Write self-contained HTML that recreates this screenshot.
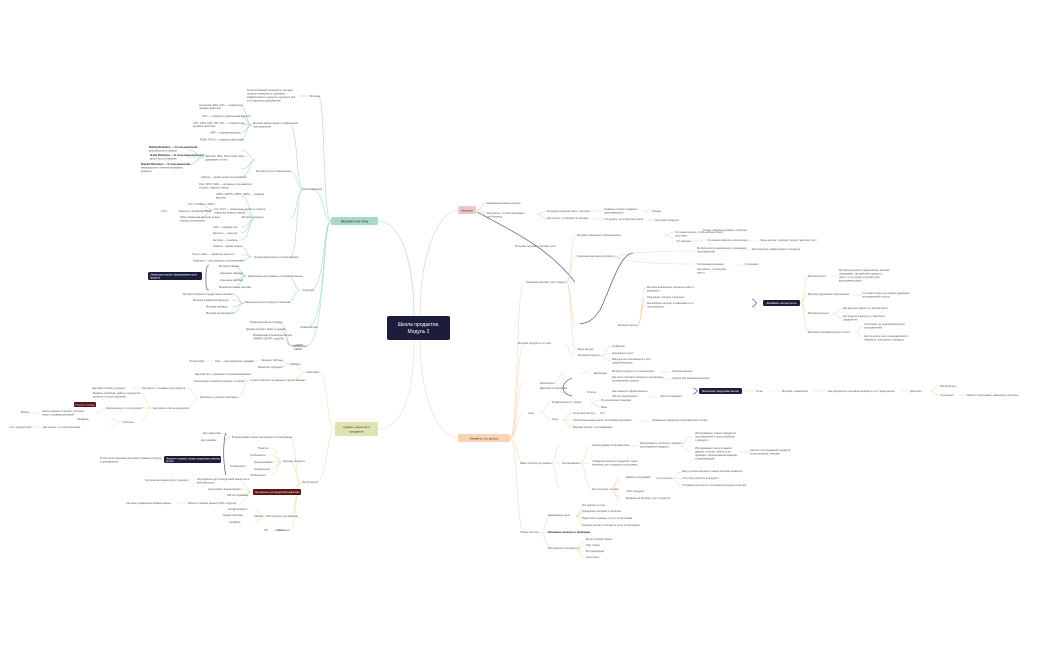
<!DOCTYPE html>
<html><head><meta charset="utf-8"><style>
html,body{margin:0;padding:0;background:#fff;}
svg{display:block;font-family:"Liberation Sans","Noto Sans CJK SC",sans-serif;}
.t{font-size:2.6px;fill:#555;}
.tl{text-anchor:end;}
.tb{font-size:2.6px;fill:#222;font-weight:bold;}
.teal{stroke:#a9d9cc;fill:none;stroke-width:0.6;}
.pink{stroke:#efc5c5;fill:none;stroke-width:0.6;}
.peach{stroke:#f6d8bb;fill:none;stroke-width:0.6;}
.green{stroke:#e3e6b8;fill:none;stroke-width:0.6;}
.navy{stroke:#3a3c60;fill:none;stroke-width:0.6;}
</style></head><body>
<svg width="1050" height="650" viewBox="0 0 1050 650" xmlns="http://www.w3.org/2000/svg">
<rect width="1050" height="650" fill="#fff"/>

<!-- main curves -->
<path class="teal" d="M414 316 C414 260 400 221 378 221" stroke-width="0.9"/>
<path class="pink" d="M420 316 C420 250 440 210 458 210" stroke-width="0.9"/>
<path class="green" d="M414 340 C414 400 400 429 378 429" stroke-width="0.9"/>
<path class="peach" d="M420 340 C420 400 440 438 458 438" stroke-width="0.9"/>

<!-- central -->
<rect x="387" y="316" width="63" height="24" rx="2" fill="#1c1d3b"/>
<text x="418.5" y="326" font-size="5" fill="#fff" text-anchor="middle">Школа продактов.</text>
<text x="418.5" y="333" font-size="5" fill="#fff" text-anchor="middle">Модуль 2</text>

<!-- branch nodes -->
<rect x="331" y="217" width="47" height="8" rx="1.5" fill="#a8d8cb"/>
<text x="354.5" y="222.5" font-size="3.2" fill="#333" text-anchor="middle">Метрики и их типы</text>
<rect x="458" y="206" width="18" height="8" rx="1.5" fill="#f0c6c6"/>
<text x="467" y="211.5" font-size="3" fill="#333" text-anchor="middle">Метрики</text>
<rect x="335" y="422" width="43" height="14" rx="1.5" fill="#dfe3b1"/>
<text x="356.5" y="428" font-size="3" fill="#333" text-anchor="middle">Цифры, скилы для</text>
<text x="356.5" y="432.5" font-size="3" fill="#333" text-anchor="middle">продактов</text>
<rect x="458" y="434" width="52" height="8" rx="1.5" fill="#f6d4b4"/>
<text x="484" y="439.5" font-size="3" fill="#333" text-anchor="middle">Инсайты, что делать</text>

<!-- TEAL TREE -->
<path class="teal" d="M331 221 C322 221 326 96 318 96"/>
<path class="teal" d="M331 221 C322 221 326 189 310 189"/>
<path class="teal" d="M331 221 C322 221 326 290 310 290"/>
<path class="teal" d="M331 221 C322 221 326 327 308 327"/>
<path class="teal" d="M331 221 C322 221 326 346 306 346"/>
<text class="t" x="310" y="97">Метрика</text>
<text class="t" x="303" y="190">Классификация</text>
<text class="t" x="302" y="291">Структура</text>
<text class="t" x="300" y="328">Уровни метрик</text>
<text class="t" x="292" y="347">Фреймворки</text>
<path class="teal" d="M309 96 C303 96 304 96 300 96"/>
<text class="t" x="247" y="91">Количественный показатель, который</text>
<text class="t" x="247" y="94.5">помогает измерить и оценивать</text>
<text class="t" x="247" y="98">эффективность продукта, процесса или</text>
<text class="t" x="247" y="101.5">его отдельных компонентов</text>

<path class="teal" d="M303 189 C296 189 298 125 290 125"/>
<path class="teal" d="M303 189 C296 189 298 171 290 171"/>
<path class="teal" d="M303 189 C296 189 298 218 290 218"/>
<path class="teal" d="M303 189 C296 189 298 257 290 257"/>
<text class="t" x="253" y="124">Метрики монетизации и привлечения</text>
<text class="t" x="253" y="127.5">пользователей</text>
<text class="t" x="256" y="172">Метрики роста и вовлечения</text>
<text class="t" x="242" y="218">Метрики продукта</text>
<text class="t" x="254" y="258">Уровни вовлечения и использования</text>
<path class="teal" d="M252 125 C246 125 247 106 240 106"/>
<path class="teal" d="M252 125 C246 125 247 116 240 116"/>
<path class="teal" d="M252 125 C246 125 247 124 240 124"/>
<path class="teal" d="M252 125 C246 125 247 133 240 133"/>
<path class="teal" d="M252 125 C246 125 247 140 240 140"/>
<text class="t" x="199" y="106">Conversion Rate (CR) — конверсия в</text>
<text class="t" x="199" y="109">целевое действие</text>
<text class="t" x="202" y="117">CAC — стоимость привлечения клиента</text>
<text class="t" x="193" y="124">CPC, CPM, CPA, CPI, CPL — стоимость за</text>
<text class="t" x="193" y="127">целевые действия</text>
<text class="t" x="210" y="133.5">ARR — годовая выручка</text>
<text class="t" x="200" y="140.5">ROMI, ROAS — возврат инвестиций</text>
<path class="teal" d="M255 160 C249 160 250 150 241 150"/>
<path class="teal" d="M255 160 C249 160 250 177 241 177"/>
<path class="teal" d="M255 160 C249 160 250 169 241 169"/>
<text class="t" x="205" y="157">Retention Rate, Churn Rate, DAU —</text>
<text class="t" x="205" y="160.5">удержание и отток</text>
<text class="t" x="201" y="178">Lifetime — время жизни пользователя</text>
<text class="t" x="199" y="185">DAU, WAU, MAU — активные пользователи</text>
<text class="t" x="199" y="188.5">за день, неделю и месяц</text>
<path class="teal" d="M204 157 C196 157 197 150 188 150"/>
<path class="teal" d="M204 157 C196 157 197 157 188 157"/>
<path class="teal" d="M204 157 C196 157 197 165 188 165"/>
<text class="tb" x="149" y="148">Rolling Retention — % пользователей,</text>
<text class="t" x="149" y="151.5">вернувшихся в продукт</text>
<text class="tb" x="150" y="156">N-day Retention — % пользователей в N-й</text>
<text class="t" x="150" y="159.5">день после установки</text>
<text class="tb" x="141" y="165">Bracket Retention — % пользователей,</text>
<text class="t" x="141" y="168.5">вернувшихся в течение интервала</text>
<text class="t" x="141" y="172">времени</text>
<path class="teal" d="M255 218 C249 218 250 196 241 196"/>
<path class="teal" d="M255 218 C249 218 250 210 241 210"/>
<path class="teal" d="M255 218 C249 218 250 227 241 227"/>
<path class="teal" d="M255 218 C249 218 250 233 241 233"/>
<path class="teal" d="M255 218 C249 218 250 240 241 240"/>
<text class="t" x="216" y="195">ARPU, ARPPU, ARPA, ARPC — средняя</text>
<text class="t" x="216" y="198.5">выручка</text>
<text class="t" x="214" y="210">LTV, CLTV — жизненная ценность клиента</text>
<text class="t" x="214" y="213.5">и выручка за весь период</text>
<text class="t" x="213" y="228">AOV — средний чек</text>
<text class="t" x="213" y="234">Revenue — выручка</text>
<text class="t" x="213" y="241">Earnings — прибыль</text>
<path class="teal" d="M213 210 C207 210 207 204 200 204"/>
<path class="teal" d="M213 210 C207 210 207 211 200 211"/>
<path class="teal" d="M213 210 C207 210 207 218 200 218"/>
<text class="t" x="188" y="205">LTV = Lifetime × ARPU</text>
<text class="t" x="179" y="212">Revenue / All Paying Clients</text>
<text class="t" x="161" y="212">LTV =</text>
<text class="t" x="180" y="218">Либо суммарная выручка за весь</text>
<text class="t" x="180" y="221.5">период пользования</text>
<path class="teal" d="M252 257 C246 257 247 246 240 246"/>
<path class="teal" d="M252 257 C246 257 247 254 240 254"/>
<path class="teal" d="M252 257 C246 257 247 261 240 261"/>
<text class="t" x="213" y="247">Lifetime — время жизни</text>
<text class="t" x="192" y="255">Time to value — время до ценности</text>
<text class="t" x="193" y="261.5">Stickiness — регулярность использования</text>
<!-- structure -->
<path class="teal" d="M300 290 C294 290 295 276 288 276"/>
<path class="teal" d="M300 290 C294 290 295 302 288 302"/>
<text class="t" x="248" y="277">Разделение на основные и вспомогательные</text>
<text class="t" x="245" y="303">Иерархия метрик продукта и бизнеса</text>
<path class="teal" d="M247 276 C240 276 242 266 234 266"/>
<path class="teal" d="M247 276 C240 276 242 273 234 273"/>
<path class="teal" d="M247 276 C240 276 242 280 234 280"/>
<path class="teal" d="M247 276 C240 276 242 287 234 287"/>
<text class="t" x="219" y="267">Метрика Севера</text>
<text class="t" x="220" y="274">Ключевые метрики</text>
<text class="t" x="220" y="281">Ключевые метрики</text>
<text class="t" x="219" y="288">Вспомогательные метрики</text>
<path class="navy" d="M209 265 C205 265 206 280 206 285 C206 288 207 290 209 290"/>
<rect x="148" y="272" width="54" height="8" rx="1.5" fill="#1c1d3b"/>
<text x="150" y="275.5" font-size="2.4" fill="#fff">Связующие метрики: формирование цели</text>
<text x="150" y="278.5" font-size="2.4" fill="#fff">продукта</text>
<path class="teal" d="M244 303 C238 303 240 294 232 294"/>
<path class="teal" d="M244 303 C238 303 240 300 232 300"/>
<path class="teal" d="M244 303 C238 303 240 307 232 307"/>
<path class="teal" d="M244 303 C238 303 240 313 232 313"/>
<text class="t" x="183" y="295">Метрики бизнеса и продуктовые метрики</text>
<text class="t" x="193" y="301">Метрики конкретной функции</text>
<text class="t" x="206" y="307.5">Метрики команды</text>
<text class="t" x="206" y="314">Метрики эксперимента</text>
<path class="teal" d="M292 346 C286 346 288 323 278 323"/>
<path class="teal" d="M292 346 C286 346 288 330 278 330"/>
<path class="teal" d="M292 346 C286 346 288 337 278 337"/>
<text class="t" x="250" y="323">Пирамида метрик (пример)</text>
<text class="t" x="246" y="330">Дерево метрик и связи с целями</text>
<text class="t" x="253" y="336">Фреймворки для выбора метрик:</text>
<text class="t" x="253" y="339.5">AARRR, HEART и другие</text>
<text class="t" x="294" y="346">AARRR</text>
<text class="t" x="294" y="350">HEART</text>

<!-- PINK TREE -->
<path class="pink" d="M476 210 C482 210 482 203 487 203"/>
<path class="pink" d="M476 210 C482 210 482 214 487 214"/>
<text class="t" x="487" y="204">Ежедневный анализ метрик</text>
<text class="t" x="487" y="214">Как понять, что метрики важны</text>
<text class="t" x="487" y="217.5">для бизнеса</text>
<path class="pink" d="M537 214 C542 214 542 211 547 211"/>
<path class="pink" d="M537 214 C542 214 542 219 547 219"/>
<text class="t" x="547" y="212">Отследить влияние фичи, гипотезы</text>
<text class="t" x="547" y="219">Как понять, что влияет на метрики</text>
<path class="pink" d="M593 211 L603 211"/>
<path class="pink" d="M593 219 L603 219"/>
<text class="t" x="604" y="210">Сравнить группы и выявить</text>
<text class="t" x="604" y="213.5">закономерности</text>
<text class="t" x="604" y="220">Что делать, если метрика упала</text>
<path class="pink" d="M643 211 L650 211"/><path class="pink" d="M648 220 L654 220"/>
<text class="t" x="652" y="212">Тренды</text>
<text class="t" x="655" y="221">На уровне продукта</text>
<path class="navy" d="M477 212 C520 235 550 250 575 282"/>
<text class="t" x="515" y="247">В основе: метрики, гипотезы, рост</text>

<!-- PEACH TREE -->
<path class="peach" d="M510 438 C518 438 516 282 524 282"/>
<path class="peach" d="M510 438 C518 438 516 345 524 345"/>
<path class="peach" d="M510 438 C518 438 516 382 524 382"/>
<path class="peach" d="M510 438 C518 438 516 412 524 412"/>
<path class="peach" d="M510 438 C518 438 516 463 524 463"/>
<path class="peach" d="M510 438 C518 438 516 531 524 531"/>
<text class="t" x="526" y="283">Ключевые метрики, рост продукта</text>
<text class="t" x="518" y="344">Метрики продукта и их рост</text>
<text class="t" x="540" y="384">Мониторинг</text>
<text class="t" x="528" y="414">Срез</text>
<text class="t" x="520" y="464">Иные способы улучшения</text>
<text class="t" x="520" y="533">Планы на итоги</text>
<path class="peach" d="M566 282 C572 282 570 235 576 235"/>
<path class="peach" d="M566 282 C572 282 570 257 576 257"/>
<path class="peach" d="M566 282 C572 282 570 325 576 325"/>
<path class="peach" d="M566 282 C572 282 570 350 576 350"/>
<text class="t" x="577" y="236">Метрики поведения и эксперименты</text>
<text class="t" x="577" y="257">Ключевые метрики для фокуса</text>
<text class="t" x="618" y="326">Метрики спроса</text>
<text class="t" x="577" y="350">Связь метрик</text>
<path class="peach" d="M664 235 C670 235 669 232 674 232"/>
<path class="peach" d="M664 235 C670 235 669 238 674 238"/>
<text class="t" x="675" y="233">Что нужно понять, чтобы метрики были</text>
<text class="t" x="675" y="236.5">простыми</text>
<text class="t" x="703" y="231">Планы, базовые метрики и гипотезы</text>
<text class="t" x="676" y="242">Что метрика</text>
<path class="peach" d="M690 241 L705 241"/>
<text class="t" x="707" y="241">Что можно измерить, как метрика</text>
<path class="peach" d="M745 241 L758 241"/>
<text class="t" x="760" y="241">Связь метрик с целями: продукт, выручка, рост</text>
<path class="peach" d="M614 257 C620 257 619 251 694 251"/>
<text class="t" x="697" y="249">Метрики роста, вовлечения и удержания</text>
<text class="t" x="697" y="252.5">пользователей</text>
<path class="peach" d="M614 257 C620 257 619 264 694 264"/>
<text class="t" x="697" y="265">Оптимизация воронки</text>
<path class="peach" d="M740 250 L750 250"/><text class="t" x="752" y="250">Как повышать эффективность продукта</text>
<path class="peach" d="M735 265 L743 265"/><text class="t" x="745" y="265">Улучшение</text>
<text class="t" x="697" y="270">Как понять, что метрики</text>
<text class="t" x="697" y="273.5">растут</text>
<path class="navy" d="M633 253 C620 253 610 290 600 310 C590 325 585 322 580 324"/>
<path class="peach" d="M637 326 C642 326 641 287 646 287"/>
<path class="peach" d="M637 326 C642 326 641 297 646 297"/>
<path class="peach" d="M637 326 C642 326 641 303 646 303"/>
<text class="t" x="647" y="288">Метрики вовлечения: время на сайте и</text>
<text class="t" x="647" y="291.5">конверсия</text>
<text class="t" x="647" y="298">Удержание: когорты и ретеншн</text>
<text class="t" x="647" y="304">Как выбрать метрику в зависимости от</text>
<text class="t" x="647" y="307.5">типа продукта</text>
<path class="navy" d="M752 299 C755 299 755 303 757 303 C755 303 755 307 752 307"/>
<rect x="763" y="300" width="37" height="6" rx="1.5" fill="#1c1d3b"/>
<text x="781.5" y="304" font-size="2.4" fill="#fff" text-anchor="middle">Фреймворк: метрики роста</text>
<path class="peach" d="M800 303 C805 303 804 276 808 276"/>
<path class="peach" d="M800 303 C805 303 804 294 808 294"/>
<path class="peach" d="M800 303 C805 303 804 313 808 313"/>
<path class="peach" d="M800 303 C805 303 804 333 808 333"/>
<text class="t" x="808" y="277">Метрики роста</text>
<text class="t" x="808" y="295">Метрики удержания и вовлечения</text>
<text class="t" x="808" y="314">Метрики выручки</text>
<text class="t" x="808" y="333">Метрики пользовательского опыта</text>
<path class="peach" d="M830 276 L838 276"/>
<text class="t" x="839" y="271">Метрики выручки и привлечения, которые</text>
<text class="t" x="839" y="274.5">показывают, как работает продукт и</text>
<text class="t" x="839" y="278">растет, и что нужно улучшать для</text>
<text class="t" x="839" y="281.5">выполнения целей</text>
<path class="peach" d="M853 295 L862 295"/>
<text class="t" x="862" y="294">Что нужно знать для оценки удержания</text>
<text class="t" x="862" y="297.5">пользователей и роста</text>
<path class="peach" d="M832 314 C838 314 836 308 842 308"/>
<path class="peach" d="M832 314 C838 314 836 318 842 318"/>
<text class="t" x="843" y="309">Как выручка зависит от метрик роста</text>
<text class="t" x="843" y="317">Как повысить выручку и увеличить</text>
<text class="t" x="843" y="320.5">средний чек</text>
<path class="peach" d="M855 333 C860 333 859 326 863 326"/>
<path class="peach" d="M855 333 C860 333 859 338 863 338"/>
<text class="t" x="864" y="325">Что влияет на удовлетворенность</text>
<text class="t" x="864" y="328.5">пользователей</text>
<text class="t" x="864" y="337">Как улучшать опыт пользователей и</text>
<text class="t" x="864" y="340.5">повышать лояльность к продукту</text>
<path class="peach" d="M565 345 C570 345 569 356 574 356"/>
<text class="t" x="578" y="356">Метрики продукта</text>
<path class="peach" d="M600 356 C606 356 605 346 611 346"/>
<path class="peach" d="M600 356 C606 356 605 353 611 353"/>
<path class="peach" d="M600 356 C606 356 605 361 611 361"/>
<text class="t" x="612" y="347">Конверсия</text>
<text class="t" x="612" y="354">Удержание и рост</text>
<text class="t" x="612" y="360">Выручка на пользователя и рост</text>
<text class="t" x="612" y="363.5">средней выручки</text>
<!-- monitoring -->
<path class="peach" d="M553 383 C560 383 558 373 564 373"/>
<path class="peach" d="M553 383 C560 383 558 393 564 393"/>
<text class="t" x="594" y="374">Дашборды</text>
<text class="t" x="587" y="393">Отчеты</text>
<path class="peach" d="M580 374 C585 374 585 371 590 371"/>
<text class="t" x="612" y="372">Метрики продукта и их мониторинг</text>
<text class="t" x="612" y="378">Как часто смотреть метрики и реагировать</text>
<text class="t" x="612" y="381.5">на изменения, алерты</text>
<text class="t" x="612" y="392">Как измерять эффективность</text>
<text class="t" x="612" y="397">Частота мониторинга</text>
<path class="peach" d="M660 372 L670 372"/><text class="t" x="672" y="372">Контроль метрик</text>
<path class="peach" d="M660 379 L670 379"/><text class="t" x="672" y="379">Алерты при изменении метрик</text>
<path class="peach" d="M650 397 L658 397"/><text class="t" x="660" y="397">Частота проверки</text>
<path class="navy" d="M693 388 C696 388 696 391 698 391 C696 391 696 394 693 394"/>
<rect x="699" y="388" width="43" height="6" rx="1.5" fill="#1c1d3b"/>
<text x="720.5" y="392" font-size="2.4" fill="#fff" text-anchor="middle">Мониторинг продуктовых метрик</text>
<path class="peach" d="M742 391 L755 391"/><text class="t" x="756" y="392">Отчет</text>
<path class="peach" d="M770 391 L780 391"/><text class="t" x="782" y="392">Метрики и аналитика</text>
<path class="peach" d="M812 391 L826 391"/><text class="t" x="828" y="392">Как определить ключевые метрики и что с ними делать</text>
<path class="peach" d="M900 391 L908 391"/><text class="t" x="910" y="392">Действия</text>
<path class="peach" d="M930 391 C935 391 934 386 939 386"/>
<path class="peach" d="M930 391 C935 391 934 395 939 395"/>
<text class="t" x="940" y="387">Инструменты</text>
<text class="t" x="940" y="396">Улучшения</text>
<path class="peach" d="M958 395 L966 395"/><text class="t" x="967" y="396">Работа с метриками, изменения, гипотезы</text>
<path class="navy" d="M572 378 C566 380 563 385 563 388 C563 392 567 395 572 396"/>
<text class="t" x="540" y="389">Действия по метрикам</text>
<!-- srez -->
<path class="peach" d="M540 413 C546 413 545 402 551 402"/>
<path class="peach" d="M540 413 C546 413 545 419 551 419"/>
<text class="t" x="552" y="403">В зависимости от целей</text>
<text class="t" x="552" y="420">Типы</text>
<path class="peach" d="M590 403 C596 403 594 400 600 400"/>
<path class="peach" d="M590 403 C596 403 594 407 600 407"/>
<text class="t" x="601" y="401">По сегментам и каналам</text>
<text class="t" x="601" y="408">Базы</text>
<path class="peach" d="M562 420 C568 420 566 413 572 413"/>
<path class="peach" d="M562 420 C568 420 566 420 572 420"/>
<path class="peach" d="M562 420 C568 420 566 427 572 427"/>
<text class="t" x="573" y="414">Когортный анализ</text>
<text class="t" x="573" y="421">Сегментационный анализ по базовым метрикам</text>
<text class="t" x="573" y="428">Воронки метрик и исследования</text>
<path class="peach" d="M638 421 L650 421"/><text class="t" x="652" y="421">Сравнение поведения пользователей и когорт</text>
<path class="peach" d="M590 414 L598 414"/><text class="t" x="600" y="414">LTV</text>
<!-- improvements -->
<path class="peach" d="M551 463 C556 463 555 445 560 445"/>
<path class="peach" d="M551 463 C556 463 555 463 560 463"/>
<path class="peach" d="M551 463 C556 463 555 488 560 488"/>
<text class="t" x="562" y="464">Исследования</text>
<path class="peach" d="M580 463 C586 463 585 446 591 446"/>
<path class="peach" d="M580 463 C586 463 585 464 591 464"/>
<path class="peach" d="M580 463 C586 463 585 489 591 489"/>
<text class="t" x="592" y="446">Анализ данных пользователей</text>
<text class="t" x="592" y="462">Сравнение метрик и продуктов, поиск</text>
<text class="t" x="592" y="465.5">инсайтов, рост продукта и улучшения</text>
<text class="t" x="592" y="490">Как улучшать метрики</text>
<path class="peach" d="M628 446 L638 446"/>
<text class="t" x="640" y="444">Как проверить гипотезы и провести</text>
<text class="t" x="640" y="447.5">исследование продукта</text>
<path class="peach" d="M680 446 C686 446 685 436 691 436"/>
<path class="peach" d="M680 446 C686 446 685 452 691 452"/>
<text class="t" x="695" y="434">Исследования: анализ поведения</text>
<text class="t" x="695" y="437.5">пользователей и поиск инсайтов</text>
<text class="t" x="695" y="441">о продукте</text>
<text class="t" x="695" y="449">Исследования: поиск и анализ</text>
<text class="t" x="695" y="452.5">данных, отчетов, гипотез и их</text>
<text class="t" x="695" y="456">проверка, формирование выводов</text>
<text class="t" x="695" y="459.5">и рекомендаций</text>
<path class="peach" d="M740 452 L750 452"/>
<text class="t" x="750" y="451">Анализ и исследования продукта:</text>
<text class="t" x="750" y="454.5">поиск инсайтов, метрики</text>
<path class="peach" d="M610 489 C616 489 614 478 620 478"/>
<path class="peach" d="M610 489 C616 489 614 482 620 482"/>
<path class="peach" d="M610 489 C616 489 614 497 620 497"/>
<path class="peach" d="M610 489 C616 489 614 500 620 500"/>
<text class="t" x="626" y="478">Работа с метриками</text>
<text class="t" x="656" y="479">Что улучшать</text>
<path class="peach" d="M672 478 C677 478 676 472 681 472"/>
<path class="peach" d="M672 478 C677 478 676 479 681 479"/>
<path class="peach" d="M672 478 C677 478 676 485 681 485"/>
<text class="t" x="682" y="472">Как улучшать метрики и какие гипотезы проверять</text>
<text class="t" x="682" y="479">Что и как улучшать в продукте</text>
<text class="t" x="682" y="486">Что важно для роста и улучшения продукта и метрик</text>
<text class="t" x="627" y="492">Рост продукта</text>
<text class="t" x="626" y="499">Влияние на метрику и рост продукта</text>
<!-- plans -->
<path class="peach" d="M540 533 C546 533 545 516 551 516"/>
<path class="peach" d="M540 533 C546 533 545 532 551 532"/>
<path class="peach" d="M540 533 C546 533 545 548 551 548"/>
<text class="t" x="548" y="516">Ежедневные цели</text>
<text class="tb" x="548" y="533">Основные вопросы и проблемы</text>
<text class="t" x="548" y="549">Инструменты для анализа</text>
<path class="peach" d="M576 516 C580 516 580 505 584 505"/>
<path class="peach" d="M576 516 C580 516 580 512 584 512"/>
<path class="peach" d="M576 516 C580 516 580 518 584 518"/>
<path class="peach" d="M576 516 C580 516 580 525 584 525"/>
<text class="t" x="582" y="506">Что сделать к итогу</text>
<text class="t" x="582" y="512">Определить метрики и гипотезы</text>
<text class="t" x="582" y="519">Подготовить данные и отчет по метрикам</text>
<text class="t" x="582" y="526">Сделать анализ и составить отчет по метрикам</text>
<path class="peach" d="M576 549 C580 549 580 540 584 540"/>
<path class="peach" d="M576 549 C580 549 580 546 584 546"/>
<path class="peach" d="M576 549 C580 549 580 552 584 552"/>
<path class="peach" d="M576 549 C580 549 580 558 584 558"/>
<text class="t" x="586" y="540">Excel и Google Sheets</text>
<text class="t" x="586" y="546">SQL и базы</text>
<text class="t" x="586" y="552">BI и дашборды</text>
<text class="t" x="586" y="558">Аналитика</text>

<!-- GREEN TREE -->
<path class="green" d="M335 429 C326 429 328 372 320 372"/>
<path class="green" d="M335 429 C326 429 328 482 316 482"/>
<text class="t" x="306" y="373">Аналитика</text>
<text class="t" x="302" y="483">Инструменты</text>
<path class="green" d="M305 373 C299 373 300 364 292 364"/>
<path class="green" d="M305 373 C299 373 300 380 292 380"/>
<text class="t" x="290" y="365">Таблицы</text>
<text class="t" x="250" y="381">Учимся смотреть на данные и делать выводы</text>
<path class="green" d="M290 364 C284 364 285 360 280 360"/>
<path class="green" d="M290 364 C284 364 285 367 280 367"/>
<text class="t" x="261" y="361">Сводные таблицы</text>
<text class="t" x="258" y="368">Формулы и функции</text>
<path class="green" d="M259 361 L249 361"/>
<text class="t" x="215" y="362">SQL — язык запросов к данным</text>
<path class="green" d="M214 361 L204 361"/>
<text class="t" x="189" y="362">Основы SQL</text>
<path class="green" d="M249 381 C243 381 244 374 238 374"/>
<path class="green" d="M249 381 C243 381 244 381 238 381"/>
<path class="green" d="M249 381 C243 381 244 398 238 398"/>
<text class="t" x="195" y="375">Как работать с данными и их визуализировать</text>
<text class="t" x="194" y="382">Как находить инсайты в данных и отчетах</text>
<text class="t" x="200" y="398">Как искать и решать проблемы</text>
<path class="green" d="M199 398 C193 398 193 388 188 388"/>
<path class="green" d="M199 398 C193 398 193 408 188 408"/>
<text class="t" x="142" y="389">Как понять, что важно для продукта</text>
<text class="t" x="153" y="409">Как искать ответы на вопросы</text>
<path class="green" d="M141 388 L131 388"/>
<text class="t" x="92" y="389">Как найти ошибку в данных</text>
<path class="green" d="M152 408 C146 408 146 393 141 393"/>
<path class="green" d="M152 408 C146 408 146 408 141 408"/>
<path class="green" d="M152 408 C146 408 146 421 141 421"/>
<text class="t" x="93" y="394">Выявить проблему, найти и определить</text>
<text class="t" x="93" y="397.5">причины и искать решения</text>
<text class="t" x="106" y="409">Как выяснить, что случилось?</text>
<text class="t" x="123" y="423">Гипотезы</text>
<rect x="74" y="402" width="22" height="5" rx="1" fill="#5a1515"/>
<text x="85" y="405.6" font-size="2.2" fill="#fff" text-anchor="middle">Решение и выводы</text>
<path class="green" d="M105 409 C100 409 100 413 96 413"/>
<text class="t" x="42" y="412">Анализ данных и метрик, гипотезы,</text>
<text class="t" x="42" y="415.5">поиск и проверка решений</text>
<path class="green" d="M41 413 L30 413"/><text class="t" x="21" y="413">Вывод</text>
<path class="green" d="M122 422 C116 422 116 419 110 419"/>
<path class="green" d="M122 422 C116 422 116 427 110 427"/>
<text class="t" x="77" y="420">Проверка</text>
<text class="t" x="43" y="428">Как понять, что гипотеза верна</text>
<path class="green" d="M42 427 L30 427"/><text class="t" x="9" y="428">Что с результатом</text>
<!-- instruments -->
<path class="green" d="M301 483 C295 483 297 437 289 437"/>
<path class="green" d="M301 483 C295 483 297 461 289 461"/>
<path class="green" d="M301 483 C295 483 297 492 289 492"/>
<path class="green" d="M301 483 C295 483 297 516 289 516"/>
<path class="green" d="M301 483 C295 483 297 530 289 530"/>
<text class="t" x="245" y="438">Как и какие инструменты использовать</text>
<text class="t" x="283" y="462">Функции продукта</text>
<text class="t" x="266" y="517">Инструменты для анализа</text>
<text class="t" x="278" y="531">Источник</text>
<text class="t" x="232" y="438">В процессе</text>
<path class="green" d="M231 437 C227 437 227 433 223 433"/>
<path class="green" d="M231 437 C227 437 227 440 223 440"/>
<text class="t" x="203" y="434">Для аналитики</text>
<text class="t" x="201" y="441">Для дизайна</text>
<path class="green" d="M282 462 C277 462 277 448 272 448"/>
<path class="green" d="M282 462 C277 462 277 455 272 455"/>
<path class="green" d="M282 462 C277 462 277 462 272 462"/>
<path class="green" d="M282 462 C277 462 277 469 272 469"/>
<path class="green" d="M282 462 C277 462 277 475 272 475"/>
<text class="t" x="258" y="449">Понятие</text>
<text class="t" x="250" y="456">Особенности</text>
<text class="t" x="254" y="463">Использование</text>
<text class="t" x="254" y="470">Ограничения</text>
<text class="t" x="250" y="476">Особенности</text>
<text class="t" x="230" y="467">Особенности</text>
<path class="navy" d="M226 433 C223 440 223 465 226 475"/>
<rect x="164" y="456" width="57" height="7" rx="1.5" fill="#1c1d3b"/>
<text x="166" y="459.3" font-size="2.3" fill="#fff">Понятия и термины: основы продуктового анализа и</text>
<text x="166" y="462" font-size="2.3" fill="#fff">метрик</text>
<path class="green" d="M164 460 L155 460"/>
<text class="t" x="100" y="459">В том числе ключевые метрики и базовые понятия</text>
<text class="t" x="100" y="462.5">и определения</text>
<rect x="253" y="489" width="48" height="6" rx="1" fill="#5a1515"/>
<text x="277" y="493" font-size="2.3" fill="#fff" text-anchor="middle">Инструменты для продуктовой аналитики</text>
<path class="green" d="M252 492 C246 492 246 480 240 480"/>
<path class="green" d="M252 492 C246 492 246 489 240 489"/>
<path class="green" d="M252 492 C246 492 246 495 240 495"/>
<path class="green" d="M252 492 C246 492 246 503 240 503"/>
<text class="t" x="197" y="480">Инструменты для продуктовой аналитики и</text>
<text class="t" x="197" y="483.5">веб-аналитики</text>
<text class="t" x="208" y="490">Аналитика и визуализация</text>
<text class="t" x="227" y="496">A/B тестирование</text>
<text class="t" x="188" y="504">Работа с базами данных (SQL и другие)</text>
<path class="green" d="M196 480 L186 480"/><text class="t" x="145" y="481">Системы веб-аналитики и трекинга</text>
<path class="green" d="M187 503 L176 503"/><text class="t" x="126" y="504">Системы управления базами данных</text>
<path class="green" d="M265 516 C260 516 260 509 255 509"/>
<path class="green" d="M265 516 C260 516 260 515 255 515"/>
<path class="green" d="M265 516 C260 516 260 522 255 522"/>
<text class="t" x="254" y="517">Анализ</text>
<text class="t" x="228" y="510">Google Analytics</text>
<text class="t" x="223" y="516">Яндекс Метрика</text>
<text class="t" x="229" y="523">Amplitude</text>
<text class="t" x="275" y="531">Ссылки</text>
<text class="t" x="264" y="531">ТМ</text>
</svg>
</body></html>
